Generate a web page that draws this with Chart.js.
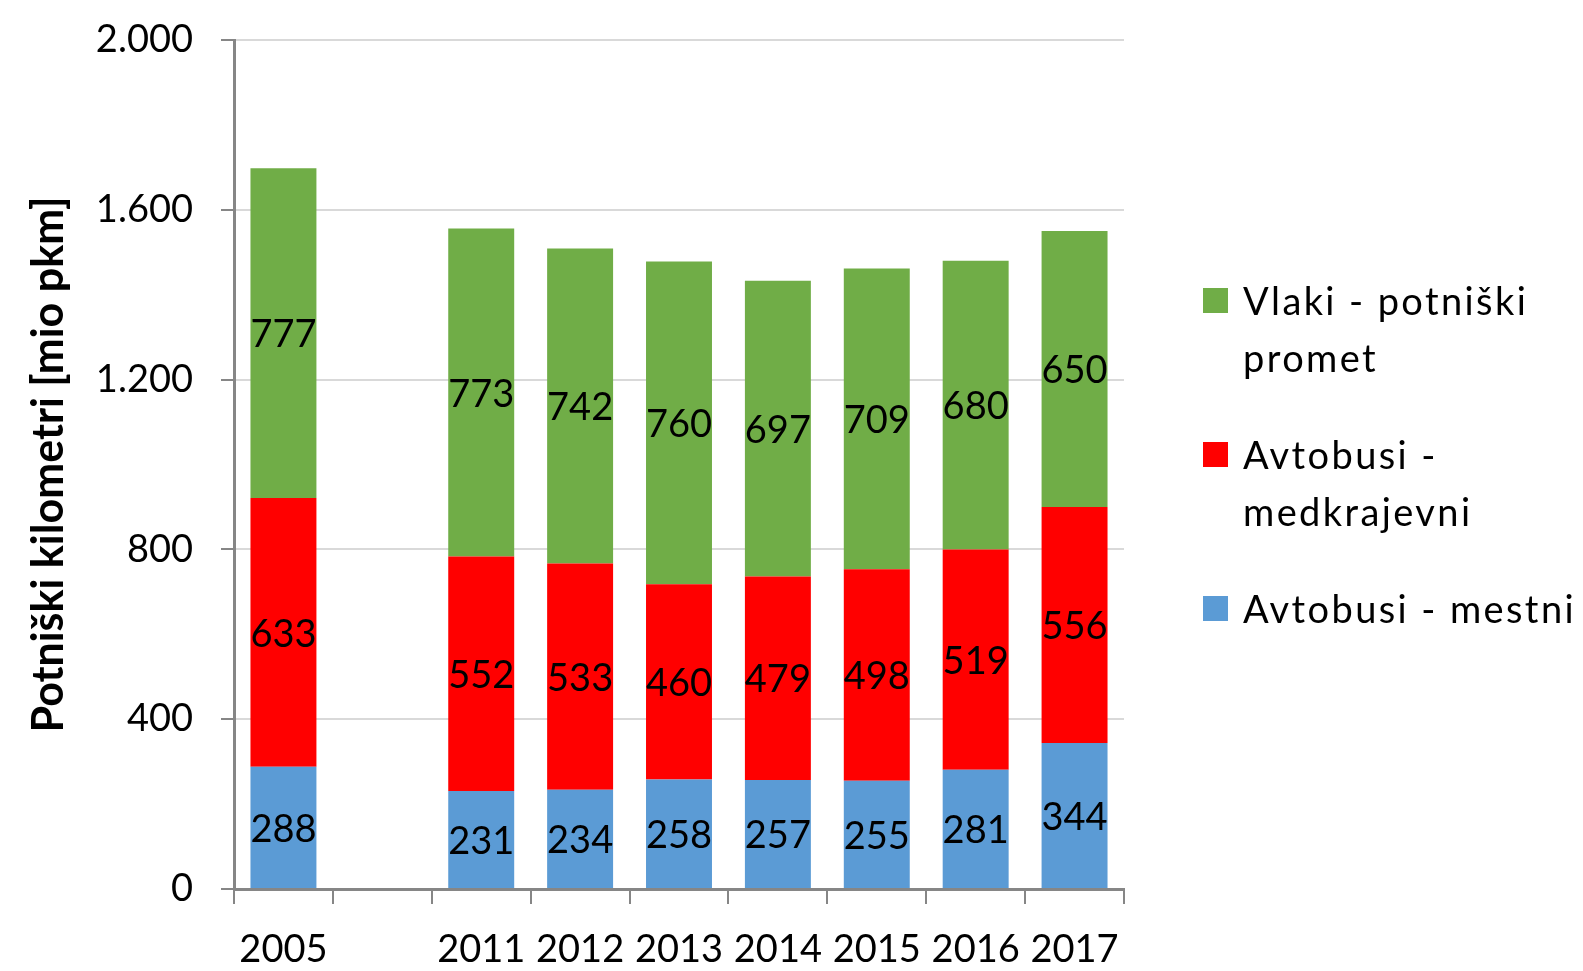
<!DOCTYPE html>
<html>
<head>
<meta charset="utf-8">
<script src="https://cdn.jsdelivr.net/npm/chart.js@4"></script>
<style>
  body { margin: 0; background: #fff; }
  #wrap { width: 1583px; height: 971px; position: relative; }
</style>
</head>
<body>
<div id="wrap"><canvas id="graf"></canvas></div>
<script>
/* podatki */
var leta = ['2005', '', '2011', '2012', '2013', '2014', '2015', '2016', '2017']
var mestni = [288, null, 231, 234, 258, 257, 255, 281, 344]
var medkrajevni = [633, null, 552, 533, 460, 479, 498, 519, 556]
var vlaki = [777, null, 773, 742, 760, 697, 709, 680, 650]
var imena = ['Avtobusi - mestni', 'Avtobusi - medkrajevni', 'Vlaki - potniški promet']
// legenda v vrsticah, kot v izvirniku
var legendaVrstice = [['Avtobusi - mestni'], ['Avtobusi -', 'medkrajevni'], ['Vlaki - potniški', 'promet']]
var barve = ['#5b9bd5', '#ff0000', '#70ad47']

var pisava = 'Lato, "Noto Sans", sans-serif'

function pika(v) {
  return String(v).replace(/\B(?=(\d{3})+(?!\d))/g, '.')
}

// vrednosti na stolpcih
var oznake = {
  id: 'oznake',
  afterDatasetsDraw: function (chart) {
    var ctx = chart.ctx
    ctx.save()
    ctx.font = '38px ' + pisava
    ctx.fillStyle = '#000'
    ctx.textAlign = 'center'
    ctx.textBaseline = 'middle'
    chart.data.datasets.forEach(function (ds, i) {
      var meta = chart.getDatasetMeta(i)
      meta.data.forEach(function (el, j) {
        var v = ds.data[j]
        if (v === null) return
        var p = el.getProps(['x', 'y', 'base'], true)
        ctx.fillText(pika(v), p.x, (p.y + p.base) / 2 + 2)
      })
    })
    ctx.restore()
  }
}

// legenda desno
var legenda = {
  id: 'legenda',
  afterDraw: function (chart) {
    var ctx = chart.ctx
    ctx.save()
    ctx.font = '38px ' + pisava
    ctx.letterSpacing = '2.4px'
    ctx.fillStyle = '#000'
    ctx.textAlign = 'left'
    ctx.textBaseline = 'alphabetic'
    var x = 1203, y = 288, vrstica = 57, razmik = 40
    for (var i = chart.data.datasets.length - 1; i >= 0; i--) {
      ctx.fillStyle = chart.data.datasets[i].backgroundColor
      ctx.fillRect(x, y, 25, 25)
      ctx.fillStyle = '#000'
      var vr = legendaVrstice[i]
      for (var k = 0; k < vr.length; k++) {
        ctx.fillText(vr[k], x + 40, y + 27 + k * vrstica)
      }
      y += vr.length * vrstica + razmik
    }
    ctx.restore()
  }
}

var ctx_graf = document.getElementById('graf').getContext('2d')

var data_graf = {
  labels: leta,
  datasets: [
    { label: imena[0], data: mestni, backgroundColor: barve[0] },
    { label: imena[1], data: medkrajevni, backgroundColor: barve[1] },
    { label: imena[2], data: vlaki, backgroundColor: barve[2] }
  ]
}

var config_graf = {
  type: 'bar',
  data: data_graf,
  options: {
    responsive: true,
    maintainAspectRatio: false,
    animation: false,
    layout: { padding: { top: 40, right: 459, bottom: 0, left: 0 } },
    datasets: { bar: { categoryPercentage: 1, barPercentage: 0.667 } },
    plugins: {
      legend: { display: false },
      tooltip: { enabled: false }
    },
    scales: {
      x: {
        stacked: true,
        border: { color: '#868686', width: 3 },
        grid: { drawOnChartArea: false, tickLength: 15, tickColor: '#868686', lineWidth: 2 },
        ticks: { color: '#000', font: { family: pisava, size: 38 }, padding: 23, maxRotation: 0, autoSkip: false },
        afterFit: function (s) { s.height = 82 }
      },
      y: {
        stacked: true,
        min: 0,
        max: 2000,
        border: { color: '#868686', width: 3 },
        grid: { color: '#d9d9d9', lineWidth: 2, tickLength: 13, tickColor: '#868686' },
        ticks: {
          stepSize: 400,
          color: '#000',
          font: { family: pisava, size: 38 },
          padding: 28,
          callback: function (v) { return pika(v) }
        },
        title: {
          display: true,
          text: 'Potniški kilometri [mio pkm]',
          color: '#000',
          font: { family: pisava, size: 43, weight: 'bold' },
          padding: { top: 23, bottom: 0 }
        },
        afterFit: function (s) {
          s.width = 234
          s.paddingTop = 0
          s.paddingBottom = 0
        }
      }
    }
  },
  plugins: [oznake, legenda]
}
var graf = new Chart(ctx_graf, config_graf)
</script>
</body>
</html>
